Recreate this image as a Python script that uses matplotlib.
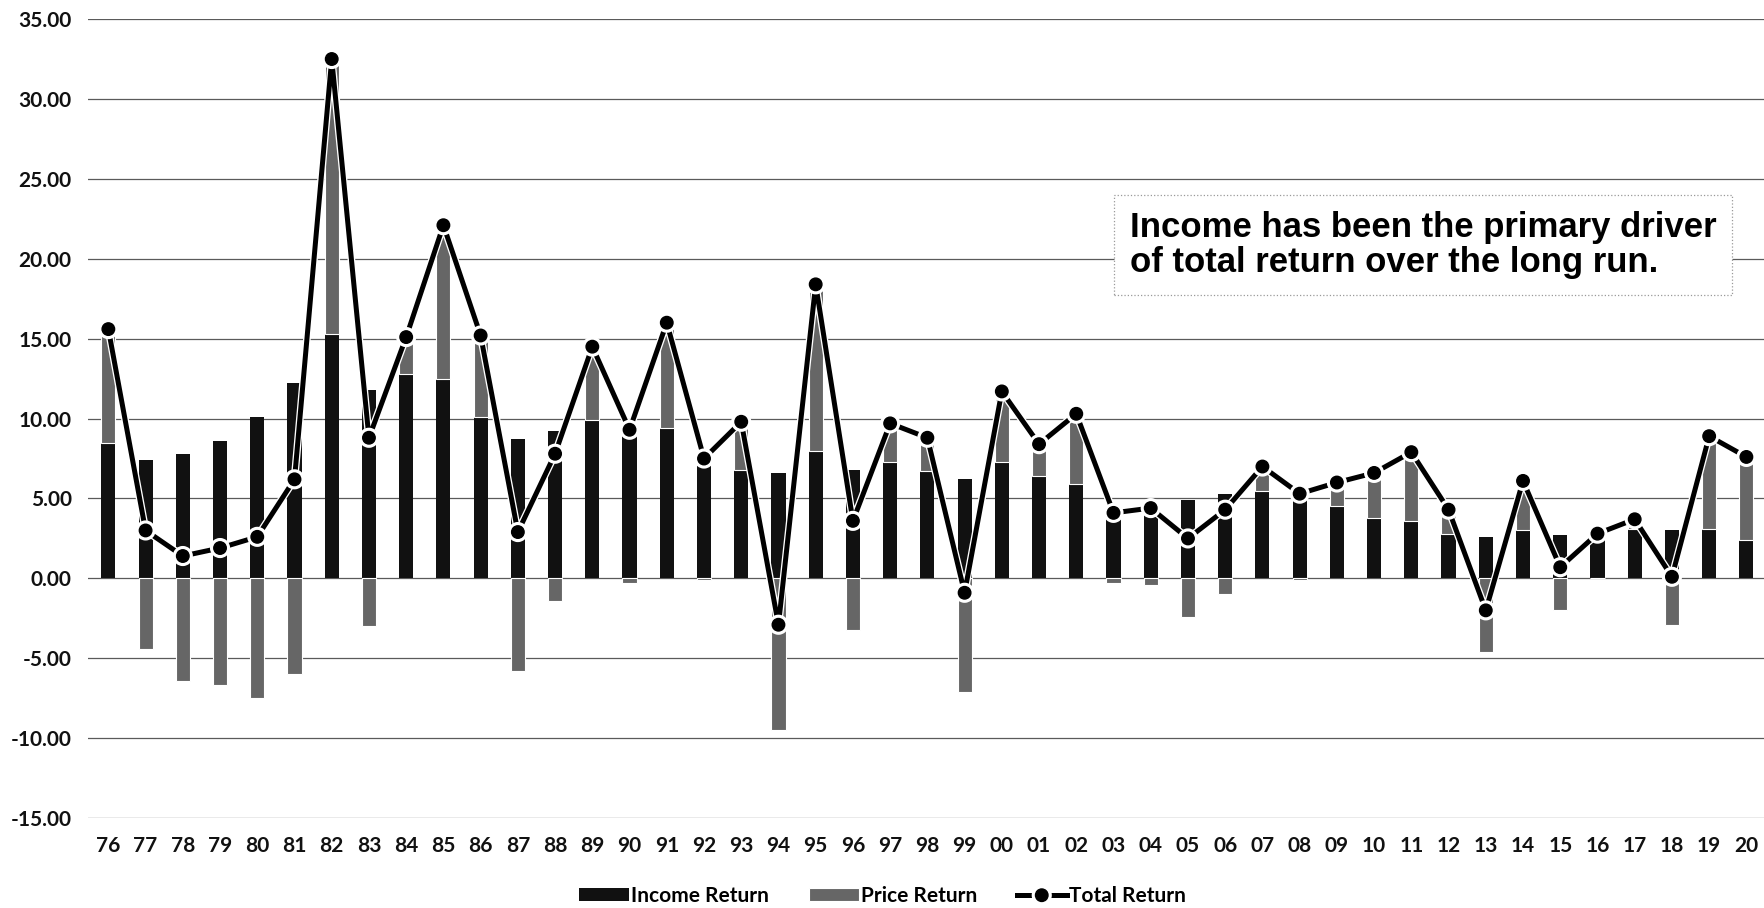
import matplotlib.pyplot as plt
import matplotlib.patheffects as pe
import numpy as np

years = ['76', '77', '78', '79', '80', '81', '82', '83', '84', '85',
         '86', '87', '88', '89', '90', '91', '92', '93', '94', '95',
         '96', '97', '98', '99', '00', '01', '02', '03', '04', '05',
         '06', '07', '08', '09', '10', '11', '12', '13', '14', '15',
         '16', '17', '18', '19', '20']
income = [8.5, 7.4, 7.8, 8.6, 10.1, 12.2, 15.3, 11.8, 12.8, 12.5,
          10.1, 8.7, 9.2, 9.9, 9.6, 9.4, 7.6, 6.8, 6.6, 8.0,
          6.8, 7.3, 6.7, 6.2, 7.3, 6.4, 5.9, 4.4, 4.8, 4.9,
          5.3, 5.5, 5.4, 4.5, 3.8, 3.6, 2.8, 2.6, 3.0, 2.7,
          2.8, 3.1, 3.0, 3.1, 2.4]
price = [7.1, -4.4, -6.4, -6.7, -7.5, -6.0, 17.2, -3.0, 2.3, 9.6,
         5.1, -5.8, -1.4, 4.6, -0.3, 6.6, -0.1, 3.0, -9.5, 10.4,
         -3.2, 2.4, 2.1, -7.1, 4.4, 2.0, 4.4, -0.3, -0.4, -2.4,
         -1.0, 1.5, -0.1, 1.5, 2.8, 4.3, 1.5, -4.6, 3.1, -2.0,
         0.0, 0.6, -2.9, 5.8, 5.2]
total = [15.6, 3.0, 1.4, 1.9, 2.6, 6.2, 32.5, 8.8, 15.1, 22.1,
         15.2, 2.9, 7.8, 14.5, 9.3, 16.0, 7.5, 9.8, -2.9, 18.4,
         3.6, 9.7, 8.8, -0.9, 11.7, 8.4, 10.3, 4.1, 4.4, 2.5,
         4.3, 7.0, 5.3, 6.0, 6.6, 7.9, 4.3, -2.0, 6.1, 0.7,
         2.8, 3.7, 0.1, 8.9, 7.6]

plt.rcParams['font.family'] = ['Lato', 'DejaVu Sans']

x = np.arange(len(years))
inc = np.array(income)
prc = np.array(price)
# positive price returns sit on top of income, negative ones hang below zero
prc_bottom = np.where(prc > 0, inc, 0)

fig = plt.figure(figsize=(17.65, 9.08), dpi=100)
ax = fig.add_axes([0.05, 0.099, 0.95, 0.88])

h_inc = ax.bar(x, inc, width=0.38, color='#111111', label='Income Return', zorder=2)
h_prc = ax.bar(x, prc, width=0.38, bottom=prc_bottom, color='#666666',
               edgecolor='white', linewidth=0.8, label='Price Return', zorder=2)
h_tot, = ax.plot(x, total, color='black', lw=3.6, marker='o', ms=9, label='Total Return',
                 zorder=3, path_effects=[pe.Stroke(linewidth=5.5, foreground='white'), pe.Normal()])

ax.set_ylim(-15, 35)
ax.set_xlim(-0.54, 44.5)
ax.set_yticks(np.arange(-15, 36, 5))
ax.set_yticklabels([f'{v:.2f}' for v in np.arange(-15, 36, 5)])
ax.set_xticks(x)
ax.set_xticklabels(years)
ax.tick_params(length=0, labelsize=15, colors='#111111')
for lbl in ax.get_xticklabels() + ax.get_yticklabels():
    lbl.set_fontweight('bold')
ax.tick_params(axis='y', pad=12)
ax.tick_params(axis='x', pad=13)
for s in ax.spines.values():
    s.set_visible(False)
ax.grid(axis='y', color='#5a5a5a', lw=0.9, zorder=0)
ax.set_axisbelow(True)

ax.text(0.621, 0.717, 'Income has been the primary driver\nof total return over the long run.',
        transform=ax.transAxes, fontsize=25, fontweight='bold', family='Liberation Sans',
        va='center', ha='left', linespacing=1.1,
        bbox=dict(boxstyle='square,pad=0.45', fc='white', ec='#999999', lw=0.9, ls=':'))

fig.legend([h_inc, h_prc, h_tot], ['Income Return', 'Price Return', 'Total Return'],
           loc='center', bbox_to_anchor=(0.5, 0.013), ncol=3, frameon=False,
           handlelength=2.4, handleheight=0.6, columnspacing=1.9,
           handletextpad=0.1, prop={'weight': 'bold', 'size': 15})

fig.savefig('out.png', dpi=100)
